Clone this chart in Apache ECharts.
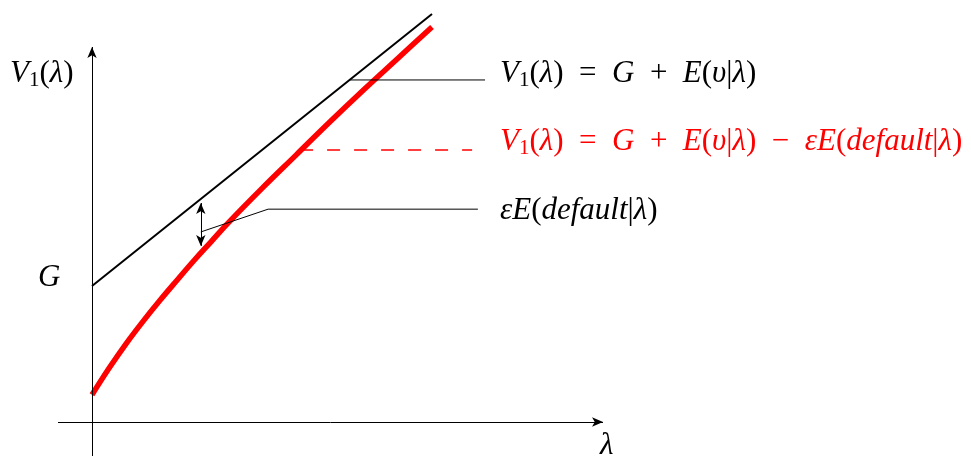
<!DOCTYPE html>
<html>
<head>
<meta charset="utf-8">
<script src="https://cdn.jsdelivr.net/npm/echarts@6/dist/echarts.min.js"></script>
<style>
  html, body { margin: 0; padding: 0; background: #fff; }
  #main { width: 971px; height: 456px; }
</style>
</head>
<body>
<div id="main"></div>
<script>
// V1(λ) 示意图：上方直线 G + E(v|λ)，红色曲线为减去违约项

var lambdaRed = [0, 0.5, 1, 1.5, 2, 2.5, 3, 3.5, 4, 5, 6, 7, 8, 9, 10];
var valueRed = [0.8, 1.58, 2.3, 2.96, 3.58, 4.17, 4.75, 5.3, 5.85, 6.87, 7.85, 8.83, 9.78, 10.7, 11.62];

var lambdaUpper = [0, 10];
var valueUpper = [4, 12];

// 坐标轴端点
var xAxisLine = [[-1, 0], [15.03, 0]];
var yAxisLine = [[0, -1], [0, 11.03]];

// 引线
var gapArrow = [[3.2, 6.44], [3.2, 5.18]];
var leaderUpper = [[7.59, 10.06], [11.56, 10.06]];
var leaderRed = [[6.12, 8.0], [11.18, 8.0]];
var leaderGap = [[3.2, 5.59], [5.18, 6.26], [11.35, 6.26]];

var fontFam = '"Liberation Serif", "DejaVu Serif", serif';
var SP = '\u2002'; // 运算符两侧留宽一点

function richStyles(color) {
  return {
    i: { fontFamily: fontFam, fontStyle: 'italic', fontSize: 31, fill: color, lineHeight: 34 },
    n: { fontFamily: fontFam, fontSize: 31, fill: color, lineHeight: 34 },
    s: { fontFamily: fontFam, fontSize: 21, fill: color, lineHeight: 18, verticalAlign: 'bottom' }
  };
}

function zip(xs, ys) {
  var out = [];
  for (var i = 0; i < xs.length; i++) out.push([xs[i], ys[i]]);
  return out;
}

var mychart = echarts.init(document.getElementById('main'));

var eqUpper = '{i|V}{s|1}{n|(}{i|λ}{n|)' + SP + '=' + SP + '}{i|G}{n|' + SP + '+' + SP + '}{i|E}{n|(}{i|υ}{n||}{i|λ}{n|)}';
var eqRed = eqUpper + '{n|' + SP + '−' + SP + '}{i|εE}{n|(}{i|default}{n||}{i|λ}{n|)}';
var eqGap = '{i|εE}{n|(}{i|default}{n||}{i|λ}{n|)}';

var option = {
  animation: false,
  grid: { left: 0, right: 0, top: 0, bottom: 0 },
  xAxis: { type: 'value', min: -2.706, max: 25.853, show: false },
  yAxis: { type: 'value', min: -1, max: 12.412, show: false },
  series: [
    {
      // 坐标轴 + 双向箭头
      type: 'line',
      data: [],
      silent: true,
      markLine: {
        silent: true,
        symbol: ['none', 'arrow'],
        symbolSize: [7, 11],
        label: { show: false },
        emphasis: { disabled: true },
        lineStyle: { color: '#000', width: 1, type: 'solid' },
        data: [
          [{ coord: xAxisLine[0] }, { coord: xAxisLine[1] }],
          [{ coord: yAxisLine[0] }, { coord: yAxisLine[1] }],
          [{ coord: gapArrow[0], symbol: 'arrow' }, { coord: gapArrow[1] }]
        ]
      }
    },
    {
      type: 'line',
      data: zip(lambdaUpper, valueUpper),
      symbol: 'none',
      silent: true,
      lineStyle: { color: '#000', width: 2 }
    },
    {
      type: 'line',
      data: zip(lambdaRed, valueRed),
      symbol: 'none',
      smooth: 0.4,
      silent: true,
      lineStyle: { color: '#ff0000', width: 5.5, cap: 'butt' }
    },
    {
      type: 'line',
      data: leaderUpper,
      symbol: 'none',
      silent: true,
      lineStyle: { color: '#000', width: 1 }
    },
    {
      type: 'line',
      data: leaderRed,
      symbol: 'none',
      silent: true,
      lineStyle: { color: '#ff0000', width: 1.5, type: [13, 14] }
    },
    {
      type: 'line',
      data: leaderGap,
      symbol: 'none',
      silent: true,
      lineStyle: { color: '#000', width: 1 }
    }
  ],
  graphic: [
    { type: 'text', left: 10, top: 58, style: { text: '{i|V}{s|1}{n|(}{i|λ}{n|)}', rich: richStyles('#000') } },
    { type: 'text', left: 38, top: 262, style: { text: '{i|G}', rich: richStyles('#000') } },
    { type: 'text', left: 600, top: 430, style: { text: '{i|λ}', rich: richStyles('#000') } },
    { type: 'text', left: 500, top: 58, style: { text: eqUpper, rich: richStyles('#000') } },
    { type: 'text', left: 500, top: 126, style: { text: eqRed, rich: richStyles('#ff0000') } },
    { type: 'text', left: 500, top: 195, style: { text: eqGap, rich: richStyles('#000') } }
  ]
};

mychart.setOption(option);
</script>
</body>
</html>
